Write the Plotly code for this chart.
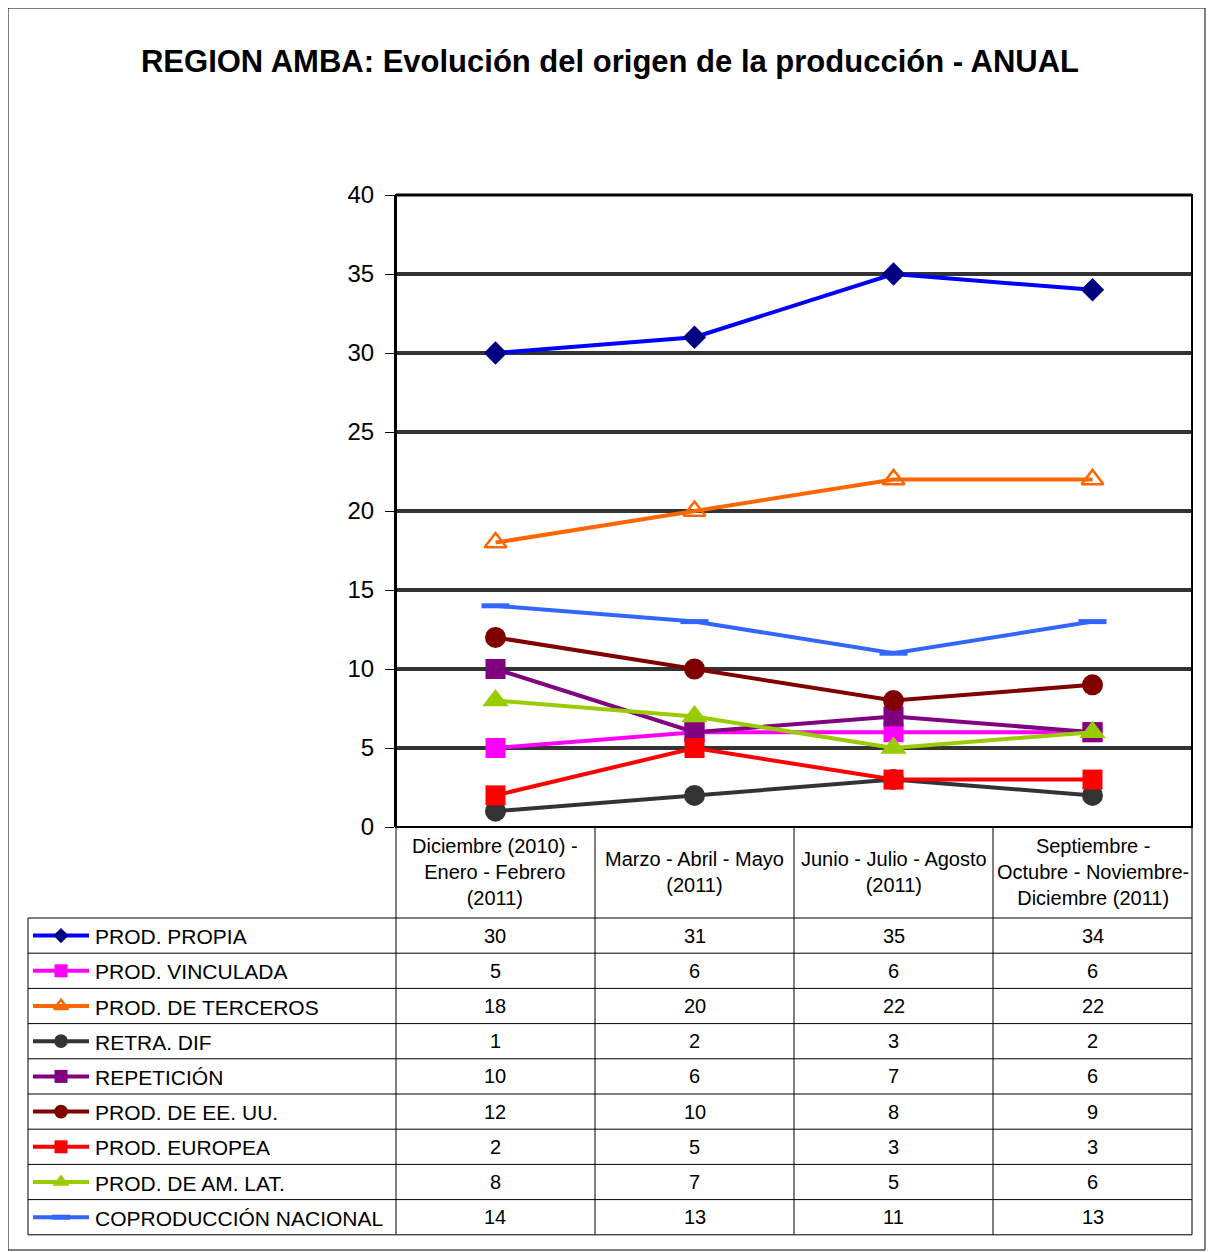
import plotly.graph_objects as go

W, H = 1214, 1252

TITLE = "REGION AMBA: Evolución del origen de la producción - ANUAL"

CATEGORIES = [
    "Diciembre (2010) -<br>Enero - Febrero<br>(2011)",
    "Marzo - Abril - Mayo<br>(2011)",
    "Junio - Julio - Agosto<br>(2011)",
    "Septiembre -<br>Octubre - Noviembre-<br>Diciembre (2011)",
]

SERIES_NAMES = [
    "PROD. PROPIA",
    "PROD. VINCULADA",
    "PROD. DE TERCEROS",
    "RETRA. DIF",
    "REPETICIÓN",
    "PROD. DE EE. UU.",
    "PROD. EUROPEA",
    "PROD. DE AM. LAT.",
    "COPRODUCCIÓN NACIONAL",
]

prod_propia = [30, 31, 35, 34]
prod_vinculada = [5, 6, 6, 6]
prod_terceros = [18, 20, 22, 22]
retra_dif = [1, 2, 3, 2]
repeticion = [10, 6, 7, 6]
prod_eeuu = [12, 10, 8, 9]
prod_europea = [2, 5, 3, 3]
prod_amlat = [8, 7, 5, 6]
coproduccion = [14, 13, 11, 13]

SERIES_VALUES = [prod_propia, prod_vinculada, prod_terceros, retra_dif, repeticion,
                 prod_eeuu, prod_europea, prod_amlat, coproduccion]

Y_TICKS = [0, 5, 10, 15, 20, 25, 30, 35, 40]

# style per series: line colour, marker symbol, marker fill, marker size
STYLES = [
    dict(line="#0000FF", symbol="diamond", fill="#000080", size=18),
    dict(line="#FF00FF", symbol="square", fill="#FF00FF", size=20),
    dict(line="#FF6600", symbol="triangle-up-open", fill="#FF6600", size=19),
    dict(line="#333333", symbol="circle", fill="#333333", size=21),
    dict(line="#800080", symbol="square", fill="#800080", size=20),
    dict(line="#800000", symbol="circle", fill="#800000", size=21),
    dict(line="#FF0000", symbol="square", fill="#FF0000", size=20),
    dict(line="#99CC00", symbol="triangle-up", fill="#99CC00", size=23),
    dict(line="#3366FF", symbol="line-ew", fill="#3366FF", size=20),
]

FONT = "Arial, Liberation Sans, sans-serif"

# layout geometry, pixels as seen on screen (page body adds 8px)
BODY = 8
PX_L, PX_R = 396, 1192
PX_TOP, PX_BOT = 195, 827
TABLE_L = 28
HEADER_BOT = 918
ROW_H = 35.2
COL_EDGES = [396, 595, 794, 993, 1192]


def px(x):
    return (x - BODY) / W


def py(y):
    return 1 - (y - BODY) / H


def marker_style(st, scale=1.0):
    size = st["size"] * scale
    if st["symbol"] == "triangle-up-open":
        return dict(symbol=st["symbol"], size=size, color=st["fill"],
                    line=dict(color=st["fill"], width=2.5))
    if st["symbol"] == "line-ew":
        return dict(symbol=st["symbol"], size=size,
                    line=dict(color=st["fill"], width=5))
    return dict(symbol=st["symbol"], size=size, color=st["fill"],
                line=dict(width=0))


fig = go.Figure()

x_idx = list(range(len(CATEGORIES)))
for name, vals, st in zip(SERIES_NAMES, SERIES_VALUES, STYLES):
    fig.add_trace(go.Scatter(
        x=x_idx, y=vals, mode="lines+markers", name=name,
        line=dict(color=st["line"], width=4),
        marker=marker_style(st),
        showlegend=False, cliponaxis=False,
    ))

# legend samples inside the data table (pixel-space overlay axes)
for i, (name, st) in enumerate(zip(SERIES_NAMES, STYLES)):
    yc = HEADER_BOT + ROW_H * (i + 0.5)
    fig.add_trace(go.Scatter(
        x=[33 - BODY, 89 - BODY], y=[yc - BODY, yc - BODY], mode="lines",
        line=dict(color=st["line"], width=4),
        xaxis="x2", yaxis="y2", showlegend=False, hoverinfo="skip",
    ))
    fig.add_trace(go.Scatter(
        x=[61 - BODY], y=[yc - BODY], mode="markers",
        marker=marker_style(st, 0.65),
        xaxis="x2", yaxis="y2", showlegend=False, hoverinfo="skip",
    ))
    fig.add_annotation(
        x=px(93), y=py(yc + 1), xref="paper", yref="paper", text=name,
        showarrow=False, xanchor="left", yanchor="middle",
        font=dict(size=21, color="black", family=FONT),
    )
    for j, v in enumerate(SERIES_VALUES[i]):
        fig.add_annotation(
            x=j, y=py(yc), xref="x", yref="paper", text=str(v),
            showarrow=False, xanchor="center", yanchor="middle",
            font=dict(size=20, color="black", family=FONT),
        )

# category header labels
for j, cat in enumerate(CATEGORIES):
    fig.add_annotation(
        x=j, y=py((PX_BOT + HEADER_BOT) / 2 - 1), xref="x", yref="paper", text=cat,
        showarrow=False, xanchor="center", yanchor="middle",
        font=dict(size=20, color="black", family=FONT),
    )

shapes = []
line_k = dict(color="black", width=1)
for xe in COL_EDGES:
    shapes.append(dict(type="line", xref="paper", yref="paper",
                       x0=px(xe), x1=px(xe), y0=py(PX_BOT), y1=py(HEADER_BOT + ROW_H * 9),
                       line=line_k))
shapes.append(dict(type="line", xref="paper", yref="paper",
                   x0=px(TABLE_L), x1=px(TABLE_L), y0=py(HEADER_BOT), y1=py(HEADER_BOT + ROW_H * 9),
                   line=line_k))
for r in range(10):
    yy = HEADER_BOT + ROW_H * r
    shapes.append(dict(type="line", xref="paper", yref="paper",
                       x0=px(TABLE_L), x1=px(PX_R), y0=py(yy), y1=py(yy), line=line_k))
# plot-area frame
shapes.append(dict(type="rect", xref="paper", yref="paper",
                   x0=px(PX_L), x1=px(PX_R), y0=py(PX_BOT), y1=py(PX_TOP),
                   line=dict(color="black", width=2), layer="above"))
shapes.append(dict(type="line", xref="paper", yref="paper",
                   x0=px(PX_L), x1=px(PX_R), y0=py(PX_TOP), y1=py(PX_TOP),
                   line=dict(color="black", width=3), layer="above"))
# outer chart border
shapes.append(dict(type="rect", xref="paper", yref="paper",
                   x0=px(8), x1=px(1205), y0=py(1250), y1=py(8),
                   line=dict(color="black", width=1)))

fig.update_layout(
    width=W, height=H,
    margin=dict(l=0, r=0, t=0, b=0, pad=0, autoexpand=False),
    paper_bgcolor="white",
    plot_bgcolor="rgba(0,0,0,0)",
    font=dict(family=FONT, color="black"),
    title=dict(text=f"<b>{TITLE}</b>", x=px(610), xanchor="center",
               y=py(61), yanchor="middle",
               font=dict(size=31, family=FONT, color="black")),
    xaxis=dict(domain=[px(PX_L), px(PX_R)], range=[-0.5, 3.5],
               showticklabels=False, showgrid=False, zeroline=False, ticks="",
               automargin=False),
    yaxis=dict(domain=[py(PX_BOT), py(PX_TOP)], range=[0, 40],
               tickvals=Y_TICKS, ticks="outside", ticklen=9, tickcolor="black",
               ticklabelstandoff=6, automargin=False,
               showgrid=True, gridcolor="#333333", gridwidth=4, zeroline=False,
               showline=True, linecolor="black", linewidth=2,
               tickfont=dict(size=24, family=FONT, color="black")),
    xaxis2=dict(domain=[0, 1], range=[0, W], visible=False, anchor="y2",
                fixedrange=True, automargin=False),
    yaxis2=dict(domain=[0, 1], range=[H, 0], visible=False, anchor="x2",
                fixedrange=True, automargin=False),
    shapes=shapes,
)

fig.write_html("out.html")
